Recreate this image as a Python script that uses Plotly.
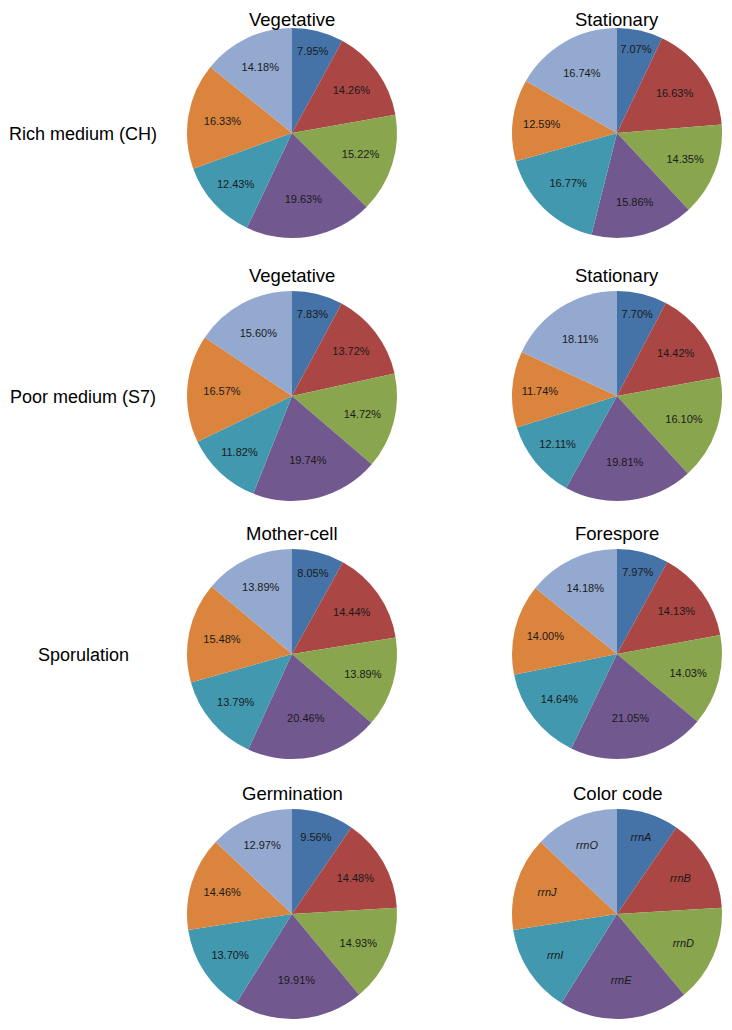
import plotly.graph_objects as go

# page is 732x1030; the HTML body has an 8px default margin
OFF = 8
W, H = 732 - 2 * OFF, 1030 - 2 * OFF

genes = ["rrnA", "rrnB", "rrnD", "rrnE", "rrnI", "rrnJ", "rrnO"]
colors = ["#4572A7", "#AA4643", "#89A54E", "#71588F", "#4198AF", "#DB843D", "#93A9CF"]

titles = ["Vegetative", "Stationary", "Vegetative", "Stationary",
          "Mother-cell", "Forespore", "Germination", "Color code"]

rich_veg = [7.95, 14.26, 15.22, 19.63, 12.43, 16.33, 14.18]
rich_stat = [7.07, 16.63, 14.35, 15.86, 16.77, 12.59, 16.74]
poor_veg = [7.83, 13.72, 14.72, 19.74, 11.82, 16.57, 15.60]
poor_stat = [7.70, 14.42, 16.10, 19.81, 12.11, 11.74, 18.11]
mother_cell = [8.05, 14.44, 13.89, 20.46, 13.79, 15.48, 13.89]
forespore = [7.97, 14.13, 14.03, 21.05, 14.64, 14.00, 14.18]
germination = [9.56, 14.48, 14.93, 19.91, 13.70, 14.46, 12.97]
color_code = [9.56, 14.48, 14.93, 19.91, 13.70, 14.46, 12.97]

row_labels = ["Rich medium (CH)", "Poor medium (S7)", "Sporulation"]

datasets = [rich_veg, rich_stat, poor_veg, poor_stat,
            mother_cell, forespore, germination, color_code]

# layout in page pixels
col_cx = [292, 617]
row_cy = [133, 396, 654, 914]
title_dy = [-113, -121, -121, -121]
R = 105


def px(x):
    return (x - OFF) / W


def py(y):
    return 1 - (y - OFF) / H


fig = go.Figure()
annotations = []
for i, vals in enumerate(datasets):
    r, c = divmod(i, 2)
    cx, cy = col_cx[c], row_cy[r]
    is_code = (i == 7)
    fig.add_trace(go.Pie(
        labels=genes, values=vals, sort=False, direction="clockwise",
        rotation=0,
        domain=dict(x=[px(cx - R), px(cx + R)], y=[py(cy + R), py(cy - R)]),
        marker=dict(colors=colors, line=dict(width=0)),
        texttemplate="<i>%{label}</i>" if is_code else "%{value:.2f}%",
        textposition="inside", insidetextorientation="horizontal",
        textfont=dict(family="Liberation Sans, Arial", size=11, color="#1a1a1a"),
        hoverinfo="label+value", showlegend=False,
    ))
    annotations.append(dict(
        x=px(cx), y=py(cy + title_dy[r]), xref="paper", yref="paper",
        text=titles[i], showarrow=False, xanchor="center", yanchor="middle",
        font=dict(family="Liberation Sans, Arial", size=18.5, color="#000000"),
    ))

for r, lab in enumerate(row_labels):
    annotations.append(dict(
        x=px(83), y=py(row_cy[r] + 1), xref="paper", yref="paper",
        text=lab, showarrow=False, xanchor="center", yanchor="middle",
        font=dict(family="Liberation Sans, Arial", size=18, color="#000000"),
    ))

fig.update_layout(
    width=W, height=H, margin=dict(l=0, r=0, t=0, b=0),
    paper_bgcolor="white", plot_bgcolor="white",
    annotations=annotations, uniformtext=dict(minsize=11, mode="show"),
)

fig.write_html("out.html")
